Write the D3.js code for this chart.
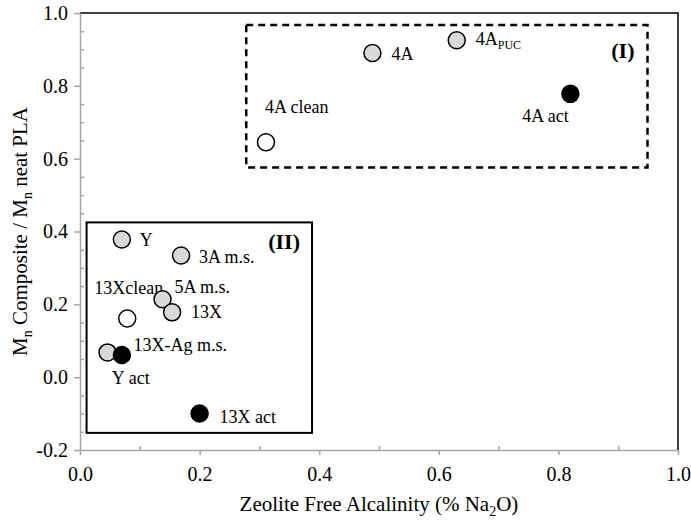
<!DOCTYPE html>
<html>
<head>
<meta charset="utf-8">
<script src="https://cdn.jsdelivr.net/npm/d3@7"></script>
<style>
  body { margin: 0; background: #fff; }
  svg text { font-family: "Liberation Serif", "Tinos", "Times New Roman", "DejaVu Serif", serif !important; fill: #000; }
</style>
</head>
<body>
<script>
// Zeolite samples
var sampleNames = ["4A clean", "4A", "4A_PUC", "4A act", "Y", "3A m.s.", "13Xclean", "5A m.s.", "13X", "13X-Ag m.s.", "Y act", "13X act"];
var alcalinity = [0.311, 0.489, 0.630, 0.820, 0.070, 0.169, 0.079, 0.138, 0.154, 0.046, 0.070, 0.200];
var mnRatio = [0.645, 0.890, 0.925, 0.778, 0.378, 0.334, 0.161, 0.214, 0.178, 0.068, 0.061, -0.100];
var sampleType = ["clean", "ms", "ms", "act", "ms", "ms", "clean", "ms", "ms", "ms", "act", "act"];

// Tick values
var xTicks = [0.0, 0.2, 0.4, 0.6, 0.8, 1.0];
var yTicks = [-0.2, 0.0, 0.2, 0.4, 0.6, 0.8, 1.0];
var xMinorTicks = [0.1, 0.3, 0.5, 0.7, 0.9];
var yMinorTicks = [-0.15, -0.1, -0.05, 0.05, 0.1, 0.15, 0.25, 0.3, 0.35, 0.45, 0.5, 0.55, 0.65, 0.7, 0.75, 0.85, 0.9, 0.95];

// Region boxes [x0, x1, y0, y1] in data units
var boxI = [0.278, 0.949, 0.576, 0.967];
var boxII = [0.011, 0.388, -0.153, 0.425];

// SVG area
var svgWidth = 691;
var svgHeight = 525;
var chartMargin = { top: 13, right: 13, bottom: 75, left: 80 };
var chartWidth = svgWidth - chartMargin.left - chartMargin.right;
var chartHeight = svgHeight - chartMargin.top - chartMargin.bottom;

var serif = '"Liberation Serif", "Tinos", "Times New Roman", "DejaVu Serif", serif';
var fillFor = { clean: "#ffffff", ms: "#d9d9d9", act: "#000000" };
var axisGrey = "#a6a6a6";

// label offsets from the marker centre (px)
var labelOffset = {
  "4A clean": [-1, -29], "4A": [19, 7], "4A_PUC": [19, 5], "4A act": [-48, 28],
  "Y": [18, 6], "3A m.s.": [18, 7], "13Xclean": [-33, -25], "5A m.s.": [12, -6],
  "13X": [19, 6], "13X-Ag m.s.": [26, -1], "Y act": [-10, 29], "13X act": [20, 9]
};

var svg = d3.select("body")
  .append("svg")
  .attr("width", svgWidth)
  .attr("height", svgHeight)
  .attr("font-family", serif);

var chartGroup = svg.append("g")
  .attr("transform", `translate(${chartMargin.left}, ${chartMargin.top})`);

var xScale = d3.scaleLinear().domain([0, 1]).range([0, chartWidth]);
var yScale = d3.scaleLinear().domain([-0.2, 1]).range([chartHeight, 0]);

// top and right frame
chartGroup.append("path")
  .attr("d", `M0,0H${chartWidth}V${chartHeight}`)
  .attr("fill", "none")
  .attr("stroke", "#000")
  .attr("stroke-width", 1.5);

// minor ticks (inward)
var xMinor = chartGroup.append("g")
  .attr("transform", `translate(0, ${chartHeight})`)
  .call(d3.axisBottom(xScale).tickValues(xMinorTicks).tickSize(-4).tickFormat(""));
var yMinor = chartGroup.append("g")
  .call(d3.axisLeft(yScale).tickValues(yMinorTicks).tickSize(-4).tickFormat(""));

// major axes
var bottomAxis = d3.axisBottom(xScale).tickValues(xTicks).tickSizeInner(5).tickSizeOuter(0)
  .tickPadding(12).tickFormat(d => d.toFixed(1));
var leftAxis = d3.axisLeft(yScale).tickValues(yTicks).tickSizeInner(6).tickSizeOuter(0)
  .tickPadding(6).tickFormat(d => d.toFixed(1));

var xAxisG = chartGroup.append("g").attr("transform", `translate(0, ${chartHeight})`).call(bottomAxis);
var yAxisG = chartGroup.append("g").call(leftAxis);

[xMinor, yMinor, xAxisG, yAxisG].forEach(function(g) {
  g.attr("font-family", serif).attr("font-size", 20);
  g.selectAll("path, line").attr("stroke", axisGrey).attr("stroke-width", 1.5);
  g.selectAll("text").attr("fill", "#000");
});
xMinor.select(".domain").remove();
yMinor.select(".domain").remove();

// region boxes
chartGroup.append("rect")
  .attr("x", xScale(boxI[0]))
  .attr("y", yScale(boxI[3]))
  .attr("width", xScale(boxI[1]) - xScale(boxI[0]))
  .attr("height", yScale(boxI[2]) - yScale(boxI[3]))
  .attr("fill", "none")
  .attr("stroke", "#000")
  .attr("stroke-width", 2.5)
  .attr("stroke-dasharray", "7,5");

chartGroup.append("rect")
  .attr("x", xScale(boxII[0]))
  .attr("y", yScale(boxII[3]))
  .attr("width", xScale(boxII[1]) - xScale(boxII[0]))
  .attr("height", yScale(boxII[2]) - yScale(boxII[3]))
  .attr("fill", "none")
  .attr("stroke", "#000")
  .attr("stroke-width", 2);

chartGroup.append("text")
  .attr("x", xScale(boxI[1]) - 13)
  .attr("y", yScale(boxI[3]) + 33)
  .attr("text-anchor", "end")
  .attr("font-size", 22)
  .attr("font-weight", "bold")
  .text("(I)");

chartGroup.append("text")
  .attr("x", xScale(boxII[1]) - 12)
  .attr("y", yScale(boxII[3]) + 27)
  .attr("text-anchor", "end")
  .attr("font-size", 22)
  .attr("font-weight", "bold")
  .text("(II)");

// samples
var samples = sampleNames.map(function(name, i) {
  return { name: name, x: alcalinity[i], y: mnRatio[i], type: sampleType[i] };
});

// labels first, markers drawn on top
samples.forEach(function(d) {
  var off = labelOffset[d.name];
  var t = chartGroup.append("text")
    .attr("x", xScale(d.x) + off[0])
    .attr("y", yScale(d.y) + off[1])
    .attr("font-size", 18);
  if (d.name === "4A_PUC") {
    t.append("tspan").text("4A");
    t.append("tspan").attr("dy", 4).attr("font-size", 12).text("PUC");
  } else {
    t.text(d.name);
  }
});

chartGroup.selectAll("circle.sample")
  .data(samples)
  .enter()
  .append("circle")
  .attr("class", "sample")
  .attr("cx", d => xScale(d.x))
  .attr("cy", d => yScale(d.y))
  .attr("r", 8.5)
  .attr("fill", d => fillFor[d.type])
  .attr("stroke", "#000")
  .attr("stroke-width", 1.5);

// axis titles
var xTitle = svg.append("text")
  .attr("x", chartMargin.left + chartWidth / 2)
  .attr("y", 511)
  .attr("text-anchor", "middle")
  .attr("font-size", 21);
xTitle.append("tspan").text("Zeolite Free Alcalinity (% Na");
xTitle.append("tspan").attr("dy", 5).attr("font-size", 14).text("2");
xTitle.append("tspan").attr("dy", -5).text("O)");

var yTitle = svg.append("text")
  .attr("transform", `translate(27, ${chartMargin.top + chartHeight / 2}) rotate(-90)`)
  .attr("text-anchor", "middle")
  .attr("font-size", 21);
yTitle.append("tspan").text("M");
yTitle.append("tspan").attr("dy", 5).attr("font-size", 14).text("n");
yTitle.append("tspan").attr("dy", -5).text(" Composite / M");
yTitle.append("tspan").attr("dy", 5).attr("font-size", 14).text("n");
yTitle.append("tspan").attr("dy", -5).text(" neat PLA");
</script>
</body>
</html>
